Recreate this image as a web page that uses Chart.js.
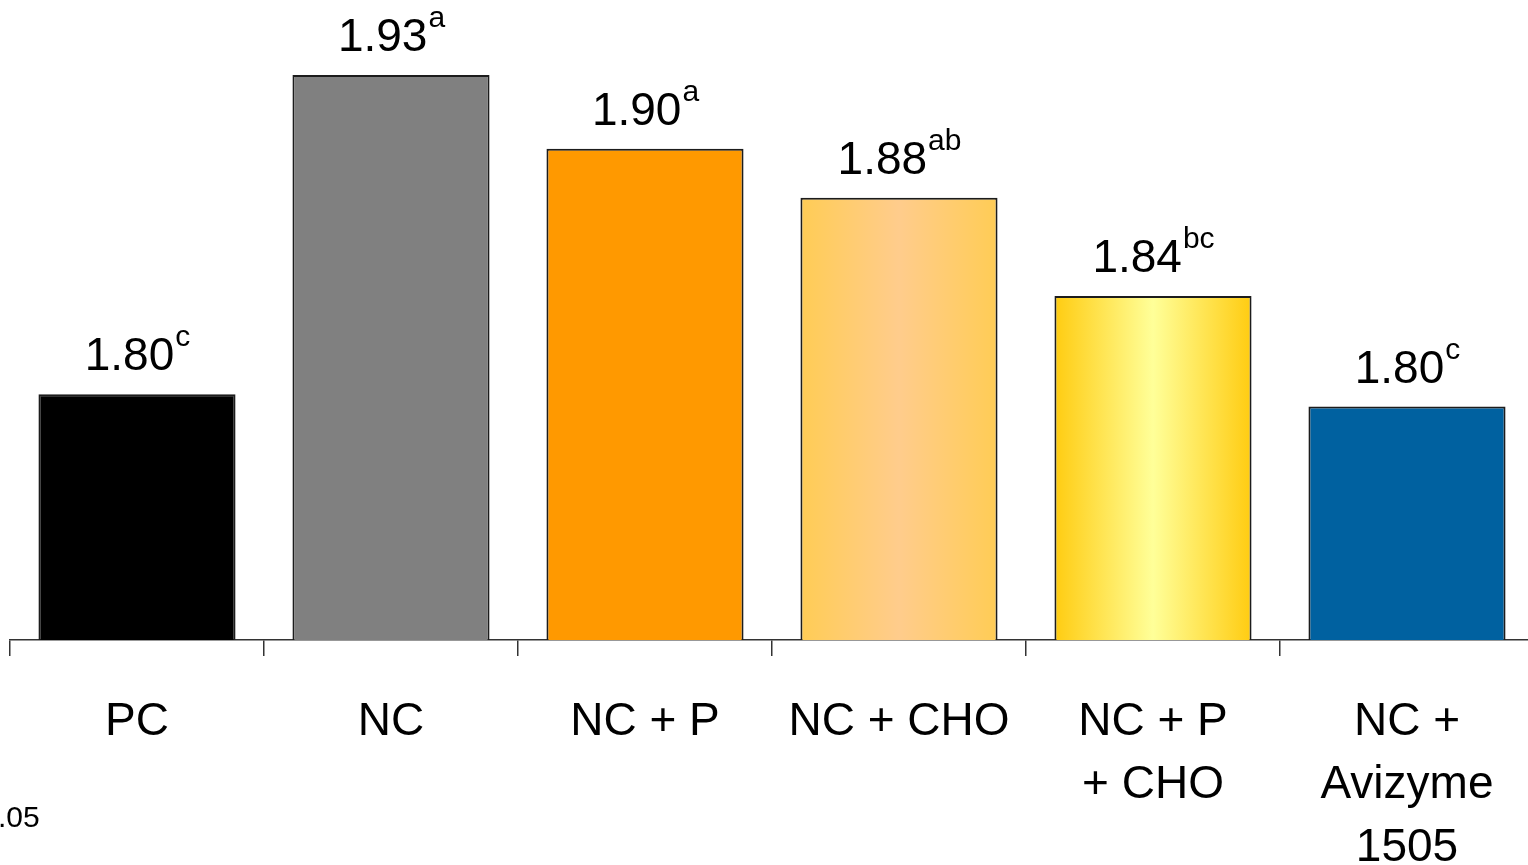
<!DOCTYPE html>
<html>
<head>
<meta charset="utf-8">
<title>Treatment bars</title>
<script src="https://cdn.jsdelivr.net/npm/chart.js@4"></script>
<style>
    html, body { margin: 0; padding: 0; background: #fff; overflow: hidden; }
    #wrap { width: 1528px; height: 865px; overflow: hidden; }
</style>
</head>
<body>
<div id="wrap"><canvas id="barChart" width="1540" height="865"></canvas></div>
<script>
// Chart values
const categories = [['PC'], ['NC'], ['NC + P'], ['NC + CHO'], ['NC + P', '+ CHO'], ['NC +', 'Avizyme', '1505']];
const values = [1.80, 1.93, 1.90, 1.88, 1.84, 1.795];
const valueLabels = ['1.80', '1.93', '1.90', '1.88', '1.84', '1.80'];
const letters = ['c', 'a', 'a', 'ab', 'bc', 'c'];
const footnote = '.05';

const FONT = "'Liberation Sans', Arial, sans-serif";

// solid colours, or [edge, centre] for the horizontal gradients
const fills = ['#000000', '#808080', '#FF9900', ['#FFCC55', '#FFCC8C'], ['#FFCC11', '#FFFF99'], '#0061A0'];

function barFill(context) {
    const fill = fills[context.dataIndex];
    if (!Array.isArray(fill)) return fill;
    const chart = context.chart;
    if (!chart.chartArea) return fill[0];
    const xScale = chart.scales.x;
    const cx = xScale.getPixelForValue(context.dataIndex);
    const half = (xScale.width / categories.length) * 0.776 / 2;
    const g = chart.ctx.createLinearGradient(cx - half, 0, cx + half, 0);
    g.addColorStop(0, fill[0]);
    g.addColorStop(0.5, fill[1]);
    g.addColorStop(1, fill[0]);
    return g;
}

// value + superscript letter above each bar, plus the cut-off footnote
const labelPlugin = {
    id: 'valueLabels',
    afterDatasetsDraw(chart) {
        const ctx = chart.ctx;
        const bars = chart.getDatasetMeta(0).data;
        ctx.save();
        ctx.fillStyle = '#000';
        ctx.textAlign = 'left';
        ctx.textBaseline = 'alphabetic';
        bars.forEach((bar, i) => {
            ctx.font = '46px ' + FONT;
            const w1 = ctx.measureText(valueLabels[i]).width;
            ctx.font = '30px ' + FONT;
            const w2 = ctx.measureText(letters[i]).width;
            const start = bar.x - (w1 + w2) / 2;
            const base = bar.y - 24;
            ctx.font = '46px ' + FONT;
            ctx.fillText(valueLabels[i], start, base);
            ctx.font = '30px ' + FONT;
            ctx.fillText(letters[i], start + w1 + 1, base - 24);
        });
        ctx.font = '30px ' + FONT;
        ctx.fillText(footnote, -2, 827);
        ctx.restore();
    }
};

new Chart(document.getElementById('barChart'), {
    type: 'bar',
    data: {
        labels: categories,
        datasets: [{
            data: values,
            backgroundColor: barFill,
            borderColor: '#1c1c1c',
            borderWidth: 2,
            categoryPercentage: 1,
            barPercentage: 0.776
        }]
    },
    options: {
        responsive: false,
        animation: false,
        layout: { padding: { left: 10, right: 6, top: 0, bottom: 0 } },
        plugins: {
            legend: { display: false },
            tooltip: { enabled: false }
        },
        scales: {
            y: {
                display: false,
                min: 1.70,
                max: 1.9605
            },
            x: {
                afterFit(scale) { scale.height = 225; },
                border: { display: true, color: '#333', width: 1.5 },
                grid: {
                    offset: true,
                    drawOnChartArea: false,
                    drawTicks: true,
                    tickLength: 16,
                    color: '#333',
                    lineWidth: 1.5
                },
                ticks: {
                    color: '#000',
                    padding: 35,
                    maxRotation: 0,
                    autoSkip: false,
                    font: { family: FONT, size: 46, lineHeight: 1.37 }
                }
            }
        }
    },
    plugins: [labelPlugin]
});
</script>
</body>
</html>
